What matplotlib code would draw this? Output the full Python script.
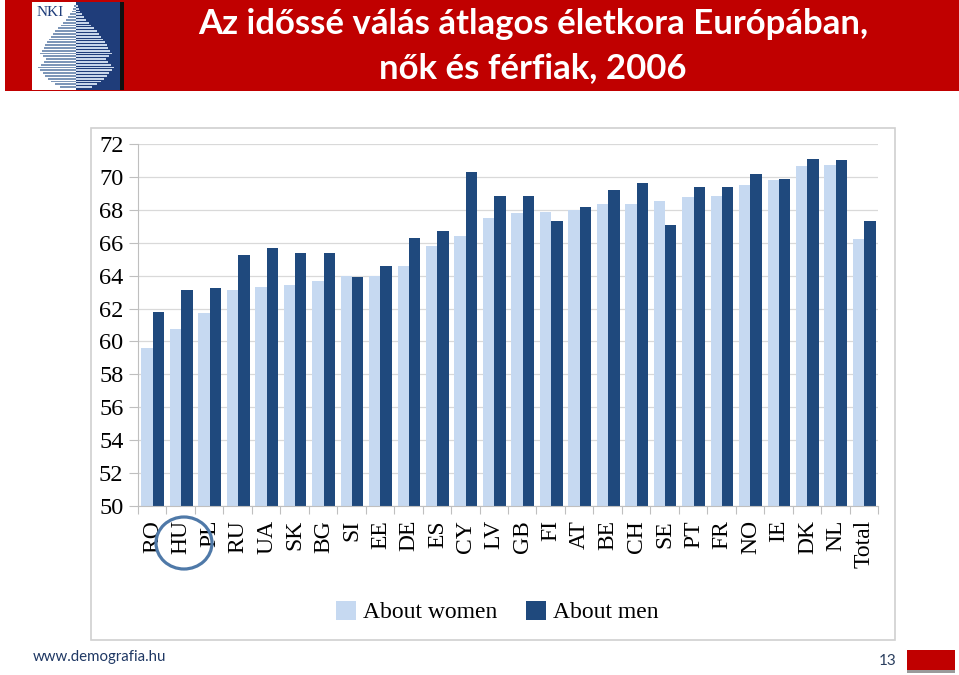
import numpy as np
import matplotlib
matplotlib.use('Agg')
import matplotlib.pyplot as plt
from matplotlib.patches import Rectangle, Ellipse, Patch

# data
countries = ['RO', 'HU', 'PL', 'RU', 'UA', 'SK', 'BG', 'SI', 'EE', 'DE', 'ES', 'CY', 'LV',
             'GB', 'FI', 'AT', 'BE', 'CH', 'SE', 'PT', 'FR', 'NO', 'IE', 'DK', 'NL', 'Total']
women = [59.6, 60.75, 61.7, 63.15, 63.3, 63.45, 63.65, 64.0, 64.0, 64.6, 65.8, 66.4, 67.5,
         67.8, 67.85, 68.0, 68.35, 68.35, 68.55, 68.75, 68.85, 69.5, 69.8, 70.65, 70.75, 66.2]
men = [61.8, 63.15, 63.25, 65.25, 65.65, 65.35, 65.35, 63.9, 64.6, 66.3, 66.7, 70.3, 68.85,
       68.85, 67.3, 68.15, 69.2, 69.6, 67.1, 69.4, 69.4, 70.2, 69.9, 71.1, 71.05, 67.3]
yticks = list(range(50, 73, 2))

# logo pyramid (half widths, top to bottom)
pyramid = [2, 3, 4, 6, 8, 10, 13, 15, 18, 21, 23, 25, 27, 29, 31, 32, 34, 36, 33, 30,
           32, 35, 38, 36, 33, 31, 28, 25, 21, 16]

W, H = 959, 675
light = '#c6d9f1'
dark = '#1f497d'

fig = plt.figure(figsize=(W / 100, H / 100), dpi=100)
fig.patch.set_facecolor('white')


def fx(px):
    return px / W


def fy(py):
    return 1 - py / H


# header band
fig.patches.append(Rectangle((fx(5), fy(91)), fx(954), 91 / H, transform=fig.transFigure,
                             facecolor='#c00000', edgecolor='none', zorder=0))
fig.text(fx(533), fy(24), 'Az időssé válás átlagos életkora Európában,',
         color='white', fontsize=25, fontweight='bold', family='Lato', ha='center', va='center')
fig.text(fx(533), fy(68), 'nők és férfiak, 2006', color='white', fontsize=25,
         fontweight='bold', family='Lato', ha='center', va='center')

# logo
lax = fig.add_axes([fx(32), fy(90), fx(92), 88 / H], zorder=3)
lax.set_xlim(0, 92)
lax.set_ylim(0, 88)
lax.axis('off')
lax.add_patch(Rectangle((0, 0), 44, 88, facecolor='white', edgecolor='none'))
lax.add_patch(Rectangle((44, 0), 44, 88, facecolor='#1f3d7a', edgecolor='none'))
lax.add_patch(Rectangle((88, 0), 4, 88, facecolor='#111111', edgecolor='none'))
ys = np.linspace(84, 3, len(pyramid))
for y, w in zip(ys, pyramid):
    lax.barh(y, -w, left=44, height=1.8, color='#7d96b8')
    lax.barh(y, w, left=44, height=1.8, color='#c8d6ea')
lax.text(5, 78, 'NKI', family='Liberation Serif', fontsize=11, color='#1f3d7a', va='center')

# chart frame
fig.patches.append(Rectangle((fx(91), fy(640)), fx(804), 512 / H, transform=fig.transFigure,
                             facecolor='none', edgecolor='#d0d0d0', linewidth=1.2, zorder=0))

ax = fig.add_axes([fx(138), fy(506), fx(740), 362 / H])
x = np.arange(len(countries))
ax.bar(x - 0.2, women, width=0.4, color=light, zorder=2)
ax.bar(x + 0.2, men, width=0.4, color=dark, zorder=2)
ax.set_ylim(50, 72)
ax.set_xlim(-0.52, len(countries) - 0.52)
ax.set_yticks(yticks)
ax.set_xticks(x)
ax.set_xticklabels(countries, rotation=90, family='Liberation Serif', fontsize=17)
ax.set_xticks(np.arange(len(countries) + 1) - 0.52, minor=True)
ax.tick_params(axis='x', which='major', length=0, pad=10)
ax.tick_params(axis='x', which='minor', length=5.5, color='#bfbfbf', width=0.8)
ax.tick_params(axis='y', length=6.5, color='#bfbfbf', width=0.8, pad=4,
               labelsize=17.5)
for lbl in ax.get_yticklabels():
    lbl.set_family('Liberation Serif')
ax.grid(axis='y', color='#d9d9d9', linewidth=0.9, zorder=0)
ax.set_axisbelow(True)
for s in ['top', 'right']:
    ax.spines[s].set_visible(False)
for s in ['left', 'bottom']:
    ax.spines[s].set_color('#bfbfbf')
    ax.spines[s].set_linewidth(0.8)

# circle around HU
fig.patches.append(Ellipse((fx(184), fy(543)), fx(56), 52 / H, transform=fig.transFigure,
                           facecolor='none', edgecolor='#4f79a8', linewidth=2.3, zorder=5))

# legend
handles = [Patch(facecolor=light, label='About women'), Patch(facecolor=dark, label='About men')]
fig.legend(handles=handles, loc='center', bbox_to_anchor=(fx(497), fy(612)), ncol=2,
           frameon=False, prop={'family': 'Liberation Serif', 'size': 17},
           handlelength=0.85, handleheight=0.85, handletextpad=0.3, columnspacing=1.2)

# footer
fig.text(fx(33), fy(657), 'www.demografia.hu', family='Lato', fontsize=10.8,
         color='#1f3864', va='center')
fig.text(fx(897), fy(661), '13', family='Lato', fontsize=11, color='#2b3f5f',
         ha='right', va='center')
fig.patches.append(Rectangle((fx(907), fy(670)), fx(48), 20 / H, transform=fig.transFigure,
                             facecolor='#c00000', edgecolor='none'))
fig.patches.append(Rectangle((fx(907), fy(673)), fx(48), 3 / H, transform=fig.transFigure,
                             facecolor='#9a9a9a', edgecolor='none'))

fig.savefig('out.png', dpi=100)
